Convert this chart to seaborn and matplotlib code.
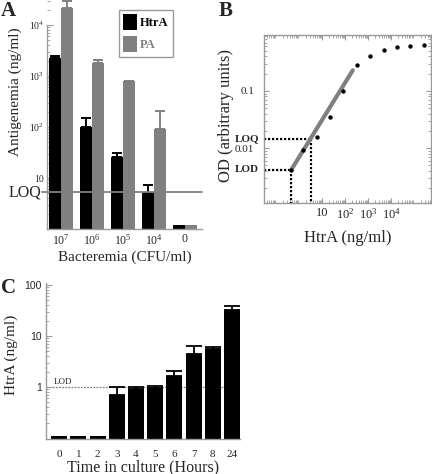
import numpy as np
import pandas as pd
import matplotlib
matplotlib.use("Agg")
import matplotlib.pyplot as plt
import matplotlib.ticker as mticker
import seaborn as sns

# ---------------- data ----------------
# Panel A
a_groups = ["10$^7$", "10$^6$", "10$^5$", "10$^4$", "0"]
a_htra = [2300, 100, 26, 5.1, 1.2]
a_htra_err = [2450, 150, 31, 7.3, 1.2]
a_pa = [22000, 1780, 790, 92, 1.2]
a_pa_err = [30000, 2100, 810, 210, 1.2]
a_loq = 5.3
a_yticks = [10, 100, 1000, 10000]
a_yticklabels = ["10", "10$^2$", "10$^3$", "10$^4$"]

# Panel B
b_x = [0.45, 1.5, 5.9, 21, 79, 330, 1260, 5100, 18000, 67000, 260000]
b_y = [0.0042, 0.0091, 0.0155, 0.035, 0.10, 0.28, 0.40, 0.52, 0.59, 0.61, 0.63]
b_fit_x = [0.45, 215]
b_fit_y = [0.0042, 0.23]
b_loq = (3.3, 0.0145)
b_lod = (0.45, 0.0042)
b_xticks = [10, 100, 1000, 10000]
b_xticklabels = ["10", "10$^2$", "10$^3$", "10$^4$"]
b_yticks = [0.01, 0.1]
b_yticklabels = ["0.01", "0.1"]

# Panel C
c_hours = ["0", "1", "2", "3", "4", "5", "6", "7", "8", "24"]
c_vals = [0.11, 0.11, 0.11, 0.71, 0.9, 0.97, 1.62, 4.4, 5.6, 33]
c_err = [0.11, 0.11, 0.11, 1.0, 1.0, 1.05, 2.1, 6.5, 6.1, 39]
c_lod = 1.0
c_yticks = [1, 10, 100]
c_yticklabels = ["1", "10", "100"]

# ---------------- style ----------------
sns.set_style("white")
SERIF = ["Liberation Serif", "DejaVu Serif"]
plt.rcParams["font.family"] = SERIF
plt.rcParams["mathtext.fontset"] = "custom"
plt.rcParams["mathtext.rm"] = "Liberation Serif"
plt.rcParams["mathtext.it"] = "Liberation Serif:italic"
plt.rcParams["mathtext.bf"] = "Liberation Serif:bold"

GRAY = "#808080"
SPINE = "#9a9a9a"

W, H = 432, 474
fig = plt.figure(figsize=(W / 100, H / 100), dpi=100)


def px_axes(l, t, r, b):
    return fig.add_axes([l / W, 1 - b / H, (r - l) / W, (b - t) / H])


# ================= Panel A =================
axA = px_axes(47, 0, 202, 229)
dfA = pd.DataFrame({
    "group": a_groups * 2,
    "value": a_htra + a_pa,
    "series": ["HtrA"] * len(a_groups) + ["PA"] * len(a_groups),
})
sns.barplot(data=dfA, x="group", y="value", hue="series", order=a_groups,
            palette={"HtrA": "black", "PA": GRAY}, width=0.8, saturation=1,
            ax=axA, linewidth=0, log_scale=(False, True))
axA.set_yscale("log")
axA.set_ylim(1, 31000)
axA.set_xlim(-0.45, 4.55)

bars = [p for p in axA.patches if p.get_height() > 0]
nA = len(a_groups)
for i, p in enumerate(bars[:2 * nA]):
    series = 0 if i < nA else 1
    k = i % nA
    top = (a_htra if series == 0 else a_pa)[k]
    up = (a_htra_err if series == 0 else a_pa_err)[k]
    if up > top * 1.02:
        cx = p.get_x() + p.get_width() / 2
        col = "black" if series == 0 else GRAY
        axA.errorbar([cx], [top], yerr=[[0], [up - top]], fmt="none",
                     ecolor=col, elinewidth=1.4, capsize=3.6, capthick=1.4,
                     clip_on=False, zorder=3)

axA.axhline(a_loq, xmin=-0.03, xmax=1, color=GRAY, lw=1.3, clip_on=False, zorder=4)
axA.text(-0.035, a_loq, "LOQ", transform=axA.get_yaxis_transform(),
         ha="right", va="center", fontsize=11.5)

for s in ["top", "right"]:
    axA.spines[s].set_visible(False)
for s in ["left", "bottom"]:
    axA.spines[s].set_color(SPINE)
    axA.spines[s].set_linewidth(1.0)
axA.spines["left"].set_bounds(1, 10000)
axA.set_yticks(a_yticks)
axA.set_yticklabels(a_yticklabels, fontsize=7)
axA.yaxis.set_minor_locator(mticker.LogLocator(base=10, subs=np.arange(2, 10)))
axA.yaxis.set_minor_formatter(mticker.NullFormatter())
axA.tick_params(axis="y", which="major", direction="in", length=4, color=SPINE, pad=2, left=True)
axA.tick_params(axis="y", which="minor", direction="in", length=2, color=SPINE, left=True)
axA.tick_params(axis="x", length=0, labelsize=8.5, pad=3)
axA.set_xlabel("Bacteremia (CFU/ml)", fontsize=11, labelpad=2)
axA.set_ylabel("Antigenemia (ng/ml)", fontsize=11)
axA.yaxis.set_label_coords(-0.16, 0.6)

handles, labels = axA.get_legend_handles_labels()
leg = axA.legend(handles, labels, loc="upper left",
                 bbox_to_anchor=(119 / W, 1 - 10 / H), bbox_transform=fig.transFigure,
                 frameon=True, fancybox=False, edgecolor=GRAY, fontsize=9,
                 handlelength=1.1, handleheight=1.6, handletextpad=0.25,
                 borderpad=0.35, labelspacing=0.45, borderaxespad=0)
leg.get_frame().set_linewidth(1.0)
for t, c in zip(leg.get_texts(), ["black", GRAY]):
    t.set_color(c)
    t.set_fontweight("bold")

# ================= Panel B =================
axB = px_axes(264, 35, 431, 203)
axB.set_xscale("log")
axB.set_yscale("log")
axB.set_xlim(0.029, 5.5e5)
axB.set_ylim(0.0011, 0.95)
sns.lineplot(x=b_fit_x, y=b_fit_y, ax=axB, color=GRAY, lw=3, zorder=2)
sns.scatterplot(x=b_x, y=b_y, ax=axB, color="black", s=10, linewidth=0, zorder=3)

dot = dict(color="black", lw=1.6, ls=(0, (1, 0.8)), zorder=1)
ymin = axB.get_ylim()[0]
xmin = axB.get_xlim()[0]
for (lx, ly) in [b_loq, b_lod]:
    axB.plot([xmin, lx], [ly, ly], **dot)
    axB.plot([lx, lx], [ly, ymin], **dot)

axB.set_xticks(b_xticks)
axB.set_xticklabels(b_xticklabels, fontsize=9)
axB.set_yticks(b_yticks)
axB.set_yticklabels(b_yticklabels, fontsize=8)
axB.xaxis.set_minor_locator(mticker.LogLocator(base=10, subs=np.arange(2, 10), numticks=20))
axB.yaxis.set_minor_locator(mticker.LogLocator(base=10, subs=np.arange(2, 10), numticks=20))
axB.xaxis.set_minor_formatter(mticker.NullFormatter())
axB.yaxis.set_minor_formatter(mticker.NullFormatter())
axB.tick_params(which="both", direction="in", top=True, right=True, left=True,
                bottom=True, color=SPINE)
axB.tick_params(which="major", length=3.5, pad=3)
axB.tick_params(which="minor", length=2)
axB.tick_params(axis="y", which="major", pad=7)
for s in axB.spines.values():
    s.set_color(SPINE)
    s.set_linewidth(1.0)
axB.text(-0.03, b_loq[1], "LOQ", transform=axB.get_yaxis_transform(),
         ha="right", va="center", fontsize=8, fontweight="bold")
axB.text(-0.03, b_lod[1], "LOD", transform=axB.get_yaxis_transform(),
         ha="right", va="center", fontsize=8, fontweight="bold")
axB.set_xlabel("HtrA (ng/ml)", fontsize=12, labelpad=6)
axB.set_ylabel("OD (arbitrary units)", fontsize=12)
axB.yaxis.set_label_coords(-0.18, 0.52)

# ================= Panel C =================
axC = px_axes(46, 283, 240, 439)
dfC = pd.DataFrame({"hour": c_hours, "value": c_vals})
sns.barplot(data=dfC, x="hour", y="value", order=c_hours, color="black",
            saturation=1, width=0.83, ax=axC, linewidth=0, log_scale=(False, True))
axC.set_yscale("log")
axC.set_ylim(0.095, 110)
axC.set_xlim(-0.69, 9.42)
for p, v, e in zip(axC.patches, c_vals, c_err):
    if e > v * 1.02:
        cx = p.get_x() + p.get_width() / 2
        axC.errorbar([cx], [v], yerr=[[0], [e - v]], fmt="none", ecolor="black",
                     elinewidth=1.3, capsize=5.5, capthick=1.3, zorder=3)
axC.axhline(c_lod, color=GRAY, lw=0.9, ls=(0, (1.5, 1)), zorder=0)
axC.text(0.04, c_lod * 1.04, "LOD", transform=axC.get_yaxis_transform(),
         ha="left", va="bottom", fontsize=6.5)

for s in ["top", "right"]:
    axC.spines[s].set_visible(False)
for s in ["left", "bottom"]:
    axC.spines[s].set_color(SPINE)
    axC.spines[s].set_linewidth(1.0)
axC.set_yticks(c_yticks)
axC.set_yticklabels(c_yticklabels, fontsize=7.5, family=["Liberation Sans", "DejaVu Sans"])
axC.yaxis.set_minor_locator(mticker.LogLocator(base=10, subs=np.arange(2, 10)))
axC.yaxis.set_minor_formatter(mticker.NullFormatter())
axC.tick_params(axis="y", which="major", direction="in", length=4, color=SPINE, pad=3, left=True)
axC.tick_params(axis="y", which="minor", direction="in", length=2, color=SPINE, left=True)
axC.tick_params(axis="x", length=0, labelsize=8, pad=8)
axC.set_xlabel("Time in culture (Hours)", fontsize=11.5, labelpad=0)
axC.set_ylabel("HtrA (ng/ml)", fontsize=11)
axC.yaxis.set_label_coords(-0.145, 0.54)

# panel letters
fig.text(1 / W, 1 - 1 / H, "A", fontsize=15, fontweight="bold", ha="left", va="top")
fig.text(219 / W, 1 - 1 / H, "B", fontsize=15, fontweight="bold", ha="left", va="top")
fig.text(1 / W, 1 - 278 / H, "C", fontsize=15, fontweight="bold", ha="left", va="top")

fig.savefig("out.png", dpi=100)
